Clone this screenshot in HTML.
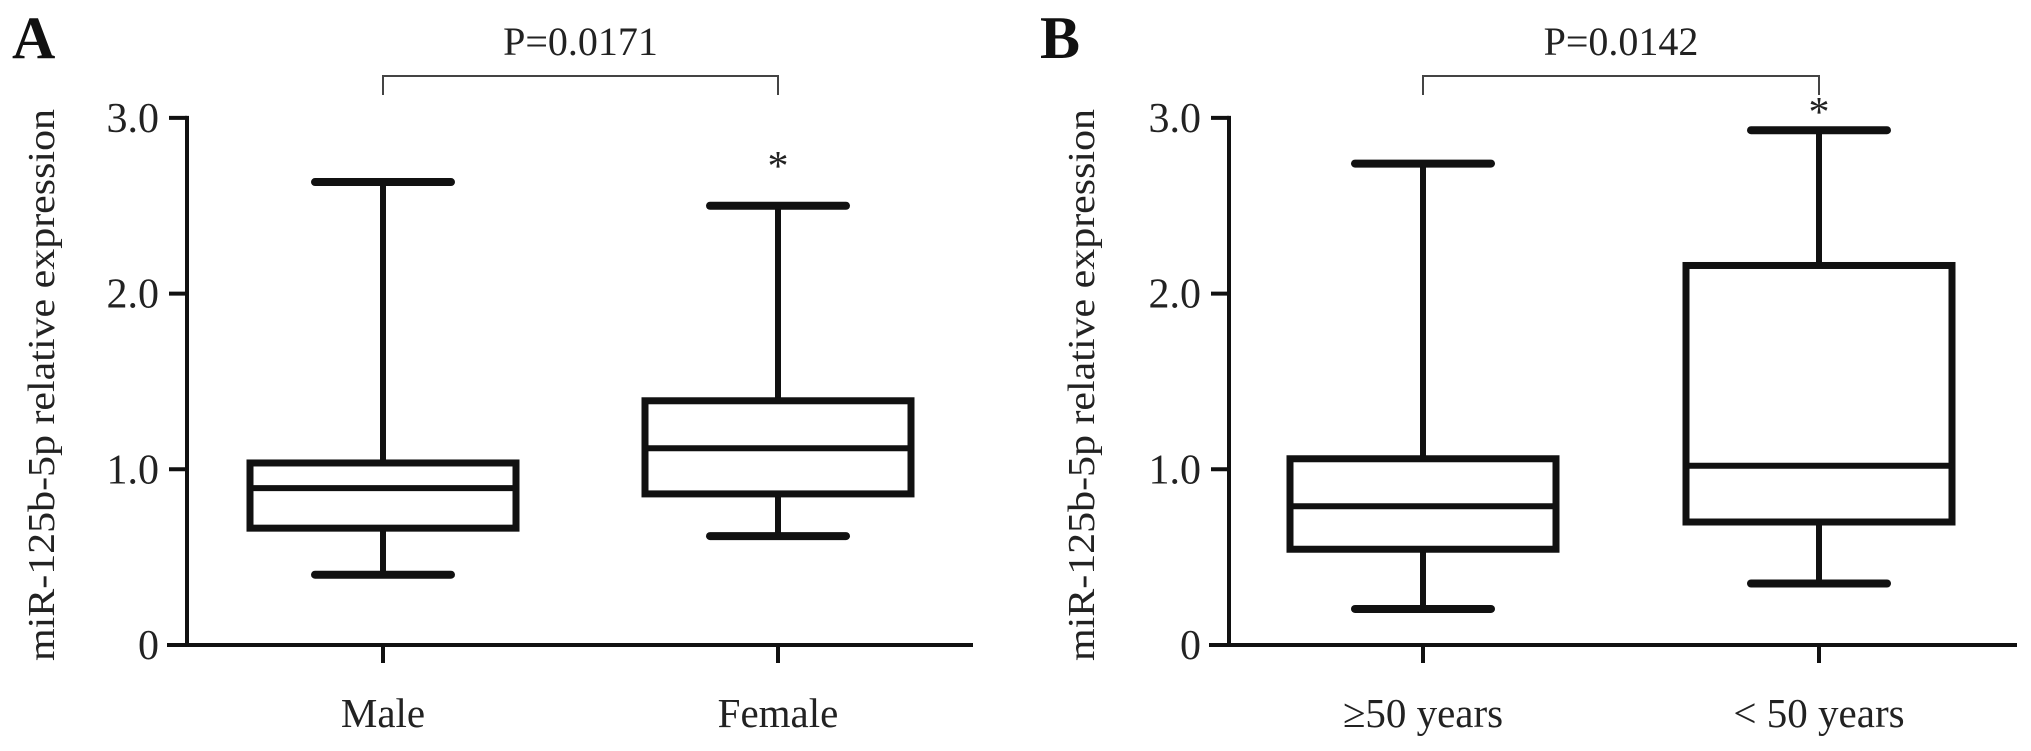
<!DOCTYPE html>
<html><head><meta charset="utf-8"><style>
html,body{margin:0;padding:0;background:#fff;}
svg{display:block;font-family:"Liberation Serif",serif;}
</style></head><body>
<svg id="chart" width="2031" height="751" viewBox="0 0 2031 751" xmlns="http://www.w3.org/2000/svg"></svg>
<script>
const panelLetters = ["A", "B"];
const pValues = ["P=0.0171", "P=0.0142"];
const categoriesA = ["Male", "Female"];
const categoriesB = ["\u226550 years", "< 50 years"];
const whiskerLowA = [0.40, 0.62];
const q1A = [0.665, 0.86];
const medianA = [0.893, 1.12];
const q3A = [1.036, 1.39];
const whiskerHighA = [2.635, 2.50];
const whiskerLowB = [0.205, 0.35];
const q1B = [0.545, 0.70];
const medianB = [0.79, 1.02];
const q3B = [1.06, 2.16];
const whiskerHighB = [2.74, 2.93];
const yTicks = [0, 1, 2, 3];
const yTickLabels = ["0", "1.0", "2.0", "3.0"];
const yTitle = "miR-125b-5p relative expression";

const NS = "http://www.w3.org/2000/svg";
const svg = document.getElementById("chart");
function mk(tag, attrs, parent) {
  const e = document.createElementNS(NS, tag);
  for (const k in attrs) e.setAttribute(k, attrs[k]);
  (parent || svg).appendChild(e);
  return e;
}
function yScale(v) { return 645 - v * 175.7; }

const panels = [
  {axisX:187, axisEnd:973, centers:[383,778], halfBox:133, halfCap:68, letterX:12, titleX:42,
   cats:categoriesA, lo:whiskerLowA, q1:q1A, med:medianA, q3:q3A, hi:whiskerHighA},
  {axisX:1229, axisEnd:2017, centers:[1423,1819], halfBox:133, halfCap:68, letterX:1040, titleX:1082,
   cats:categoriesB, lo:whiskerLowB, q1:q1B, med:medianB, q3:q3B, hi:whiskerHighB}
];

panels.forEach((p, pi) => {
  const g = mk("g", {});
  
  

  const letter = mk("text", {x:p.letterX, y:58, "font-size":60, "font-weight":"bold", fill:"#111"}, g);
  letter.textContent = panelLetters[pi];
  
  

  const ya = mk("line", {x1:p.axisX, y1:yScale(3)-2, x2:p.axisX, y2:yScale(0)+2, stroke:"#111", "stroke-width":4}, g);
  
  
  yTicks.forEach((t, i) => {
    const tk = mk("line", {x1:p.axisX-18, y1:yScale(t), x2:p.axisX, y2:yScale(t), stroke:"#111", "stroke-width":4}, g);
    
    
    const tl = mk("text", {x:p.axisX-28, y:yScale(t)+14, "font-size":42, "text-anchor":"end", fill:"#222"}, g);
    tl.textContent = yTickLabels[i];
    
    
  });
  const yt = mk("text", {x:0, y:0, "font-size":38, "text-anchor":"middle", fill:"#222",
    transform:"translate(" + (p.titleX+12) + ",385) rotate(-90)", textLength:552, lengthAdjust:"spacingAndGlyphs"}, g);
  yt.textContent = yTitle;
  
  

  const xa = mk("line", {x1:p.axisX-20, y1:yScale(0), x2:p.axisEnd, y2:yScale(0), stroke:"#111", "stroke-width":4}, g);
  
  

  p.cats.forEach((c, i) => {
    const cx = p.centers[i];
    const tk = mk("line", {x1:cx, y1:yScale(0), x2:cx, y2:yScale(0)+18, stroke:"#111", "stroke-width":4}, g);
    
    
    const cl = mk("text", {x:cx, y:727, "font-size":41, "text-anchor":"middle", fill:"#222"}, g);
    cl.textContent = c;
    
    

    const bx = mk("g", {}, g);
    
    
    const sw = 6;
    const w1 = mk("line", {x1:cx, y1:yScale(p.hi[i]), x2:cx, y2:yScale(p.q3[i]), stroke:"#111", "stroke-width":sw}, bx);
    
    
    const w2 = mk("line", {x1:cx, y1:yScale(p.q1[i]), x2:cx, y2:yScale(p.lo[i]), stroke:"#111", "stroke-width":sw}, bx);
    
    
    const c1 = mk("line", {x1:cx-p.halfCap, y1:yScale(p.hi[i]), x2:cx+p.halfCap, y2:yScale(p.hi[i]), stroke:"#111", "stroke-width":8, "stroke-linecap":"round"}, bx);
    
    
    const c2 = mk("line", {x1:cx-p.halfCap, y1:yScale(p.lo[i]), x2:cx+p.halfCap, y2:yScale(p.lo[i]), stroke:"#111", "stroke-width":8, "stroke-linecap":"round"}, bx);
    
    
    const r = mk("rect", {x:cx-p.halfBox, y:yScale(p.q3[i]), width:2*p.halfBox, height:yScale(p.q1[i])-yScale(p.q3[i]), fill:"#fff", stroke:"#111", "stroke-width":sw+1}, bx);
    
    
    const m = mk("line", {x1:cx-p.halfBox, y1:yScale(p.med[i]), x2:cx+p.halfBox, y2:yScale(p.med[i]), stroke:"#111", "stroke-width":sw}, bx);
    
    
  });

  const c0 = p.centers[0], c1b = p.centers[1];
  const br = mk("path", {d:"M"+c0+" 95 V76 H"+c1b+" V95", fill:"none", stroke:"#444", "stroke-width":2}, g);
  
  
  const pt = mk("text", {x:(c0+c1b)/2, y:55, "font-size":40, "text-anchor":"middle", fill:"#222"}, g);
  pt.textContent = pValues[pi];
  
  
  const starY = pi === 0 ? yScale(whiskerHighA[1]) - 26 : yScale(whiskerHighB[1]) - 4;
  const st = mk("text", {x:c1b, y:starY, "font-size":42, "text-anchor":"middle", fill:"#222"}, g);
  st.textContent = "*";
  
  
});
</script>
</body></html>
